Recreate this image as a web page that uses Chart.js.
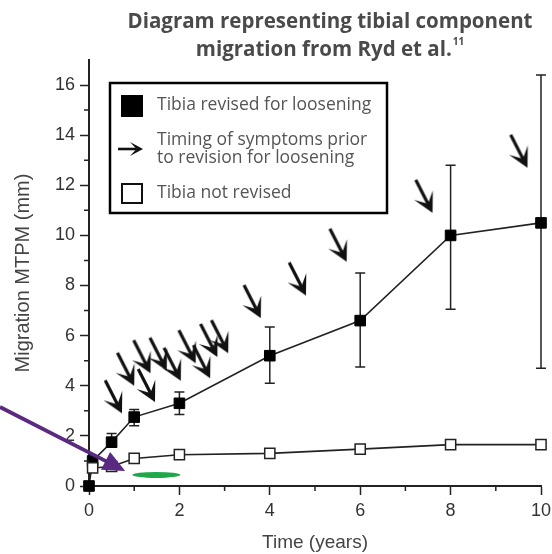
<!DOCTYPE html>
<html>
<head>
<meta charset="utf-8">
<script src="https://cdn.jsdelivr.net/npm/chart.js@4"></script>
<style>
  html, body { margin: 0; padding: 0; background: #fff; }
  #chart { display: block; }
</style>
</head>
<body>
<canvas id="chart" width="552" height="554"></canvas>
<script>
// tibia revised for loosening (filled squares) with error bars
const revisedYears = [0, 0.08, 0.5, 1, 2, 4, 6, 8, 10];
const revisedMtpm = [0, 1.0, 1.75, 2.75, 3.3, 5.2, 6.6, 10.0, 10.5];
const revisedLow = [null, null, 1.55, 2.4, 2.85, 4.1, 4.75, 7.05, 4.7];
const revisedHigh = [null, null, 2.1, 3.05, 3.75, 6.35, 8.5, 12.8, 16.4];

// tibia not revised (open squares)
const stableYears = [0.08, 0.5, 1, 2, 4, 6, 8, 10];
const stableMtpm = [0.72, 0.78, 1.1, 1.25, 1.3, 1.47, 1.65, 1.65];

// arrow tips: timing of symptoms prior to revision
const symptomYears = [0.73, 1.0, 1.46, 1.36, 1.72, 2.03, 2.36, 2.68, 2.84, 3.08, 3.8, 4.8, 5.7, 7.6, 9.7];
const symptomMtpm = [2.9, 4.0, 3.35, 4.5, 4.6, 4.2, 4.9, 4.3, 5.15, 5.3, 6.7, 7.6, 8.95, 10.9, 12.7];

const titleLines = ['Diagram representing tibial component', 'migration from Ryd et al.'];
const titleRef = '11';
const legendLabels = [['Tibia revised for loosening'], ['Timing of symptoms prior', 'to revision for loosening'], ['Tibia not revised']];

// annotations added on top of the original figure (data coords)
const pointerFrom = [-1.97, 3.15];
const pointerTo = [0.8, 0.6];
const ovalCentre = [1.49, 0.44];
const ovalSize = [0.53, 0.12];

const ink = '#222';
const axisFont = '"Liberation Sans", Arial';

function drawArrow(g, tx, ty, ang, len, hl, hw, shaft) {
  const dx = Math.cos(ang), dy = Math.sin(ang);
  const nx = -dy, ny = dx;
  g.strokeStyle = '#111';
  g.fillStyle = '#111';
  g.lineWidth = shaft;
  g.beginPath();
  g.moveTo(tx - len * dx, ty - len * dy);
  g.lineTo(tx - hl * 0.5 * dx, ty - hl * 0.5 * dy);
  g.stroke();
  g.beginPath();
  g.moveTo(tx, ty);
  g.lineTo(tx - hl * dx + hw * nx, ty - hl * dy + hw * ny);
  g.lineTo(tx - hl * 0.5 * dx, ty - hl * 0.5 * dy);
  g.lineTo(tx - hl * dx - hw * nx, ty - hl * dy - hw * ny);
  g.closePath();
  g.fill();
}

// arrow image with its tip at the centre, so the point sits on the tip
function arrowImage() {
  const c = document.createElement('canvas');
  c.width = 90; c.height = 90;
  drawArrow(c.getContext('2d'), 45, 45, 63 * Math.PI / 180, 37, 20, 10.5, 3.2);
  return c;
}

const extras = {
  id: 'extras',
  beforeDatasetsDraw(chart) {
    const { ctx, scales: { x, y } } = chart;
    ctx.save();
    ctx.strokeStyle = ink;
    ctx.lineWidth = 1.5;
    revisedYears.forEach((t, i) => {
      if (revisedLow[i] == null) return;
      const px = x.getPixelForValue(t);
      const lo = y.getPixelForValue(revisedLow[i]);
      const hi = y.getPixelForValue(revisedHigh[i]);
      ctx.beginPath();
      ctx.moveTo(px, lo); ctx.lineTo(px, hi);
      ctx.moveTo(px - 5, lo); ctx.lineTo(px + 5, lo);
      ctx.moveTo(px - 5, hi); ctx.lineTo(px + 5, hi);
      ctx.stroke();
    });
    ctx.restore();
  },
  afterDraw(chart) {
    const { ctx, scales: { x, y } } = chart;
    ctx.save();

    // minor ticks
    ctx.strokeStyle = ink;
    ctx.lineWidth = 1.5;
    ctx.beginPath();
    for (let v = 1; v < 10; v += 2) {
      const px = x.getPixelForValue(v);
      ctx.moveTo(px, y.bottom); ctx.lineTo(px, y.bottom + 5);
    }
    for (let v = 1; v < 17; v += 2) {
      const py = y.getPixelForValue(v);
      ctx.moveTo(x.left, py); ctx.lineTo(x.left - 5, py);
    }
    ctx.stroke();

    // title
    ctx.fillStyle = '#4a4a4a';
    ctx.textBaseline = 'middle';
    ctx.textAlign = 'center';
    ctx.font = 'bold 20.5px "Open Sans"';
    ctx.fillText(titleLines[0], 330, 22);
    const w2 = ctx.measureText(titleLines[1]).width;
    ctx.font = 'bold 10px "Open Sans"';
    const w3 = ctx.measureText(titleRef).width;
    const left2 = 330 - (w2 + w3 + 1) / 2;
    ctx.textAlign = 'left';
    ctx.font = 'bold 20.5px "Open Sans"';
    ctx.fillText(titleLines[1], left2, 50);
    ctx.font = 'bold 10px "Open Sans"';
    ctx.fillText(titleRef, left2 + w2 + 1, 42);

    // legend box
    ctx.fillStyle = '#fff';
    ctx.fillRect(110, 83, 277, 130);
    ctx.strokeStyle = '#000';
    ctx.lineWidth = 2.5;
    ctx.strokeRect(110, 83, 277, 130);
    ctx.fillStyle = '#000';
    ctx.fillRect(121, 95, 22, 22);
    drawArrow(ctx, 143, 149, 0, 25, 13, 7, 2.6);
    ctx.fillStyle = '#fff';
    ctx.fillRect(122, 184, 20, 19);
    ctx.lineWidth = 2;
    ctx.strokeRect(122, 184, 20, 19);
    ctx.fillStyle = '#555';
    ctx.font = '17.5px "Open Sans"';
    ctx.fillText(legendLabels[0][0], 157, 105);
    ctx.fillText(legendLabels[1][0], 157, 140);
    ctx.fillText(legendLabels[1][1], 157, 158);
    ctx.fillText(legendLabels[2][0], 157, 193);

    // purple pointer and green oval
    const ax = x.getPixelForValue(pointerFrom[0]), ay = y.getPixelForValue(pointerFrom[1]);
    const bx = x.getPixelForValue(pointerTo[0]), by = y.getPixelForValue(pointerTo[1]);
    const ang = Math.atan2(by - ay, bx - ax);
    const dx = Math.cos(ang), dy = Math.sin(ang);
    ctx.strokeStyle = '#5a2a82';
    ctx.fillStyle = '#5a2a82';
    ctx.lineWidth = 3.8;
    ctx.beginPath();
    ctx.moveTo(ax, ay);
    ctx.lineTo(bx - 15 * dx, by - 15 * dy);
    ctx.stroke();
    ctx.beginPath();
    ctx.moveTo(bx, by);
    ctx.lineTo(bx - 22 * dx - 10 * dy, by - 22 * dy + 10 * dx);
    ctx.lineTo(bx - 22 * dx + 10 * dy, by - 22 * dy - 10 * dx);
    ctx.closePath();
    ctx.fill();

    const ox = x.getPixelForValue(ovalCentre[0]), oy = y.getPixelForValue(ovalCentre[1]);
    const rx = x.getPixelForValue(ovalCentre[0] + ovalSize[0]) - ox;
    const ry = oy - y.getPixelForValue(ovalCentre[1] + ovalSize[1]);
    ctx.fillStyle = '#1fa84b';
    ctx.beginPath();
    ctx.ellipse(ox, oy, rx, ry, 0, 0, Math.PI * 2);
    ctx.fill();
    ctx.restore();
  }
};

const arrow = arrowImage();

new Chart(document.getElementById('chart'), {
  type: 'line',
  data: {
    datasets: [
      {
        label: 'Tibia not revised',
        data: stableYears.map((t, i) => ({ x: t, y: stableMtpm[i] })),
        borderColor: ink, borderWidth: 1.6,
        pointStyle: 'rect', pointRadius: 7.2,
        pointBackgroundColor: '#fff', pointBorderColor: ink, pointBorderWidth: 1.5
      },
      {
        label: 'Tibia revised for loosening',
        data: revisedYears.map((t, i) => ({ x: t, y: revisedMtpm[i] })),
        borderColor: ink, borderWidth: 1.6,
        pointStyle: 'rect', pointRadius: 7.5,
        pointBackgroundColor: '#000', pointBorderColor: '#000', pointBorderWidth: 1
      },
      {
        label: 'Timing of symptoms prior to revision for loosening',
        data: symptomYears.map((t, i) => ({ x: t, y: symptomMtpm[i] })),
        showLine: false,
        pointStyle: arrow, pointRadius: 10
      }
    ]
  },
  options: {
    responsive: false,
    animation: false,
    clip: false,
    layout: { padding: { top: 60, right: 11, left: 0, bottom: 0 } },
    plugins: { legend: { display: false }, title: { display: false }, tooltip: { enabled: false } },
    scales: {
      x: {
        type: 'linear', min: 0, max: 10,
        afterFit: s => { s.height = 68; s.paddingRight = 0; s.paddingLeft = 0; },
        ticks: { stepSize: 2, autoSkip: false, maxRotation: 0, padding: 5, color: '#333',
                 font: { family: axisFont, size: 18 } },
        grid: { drawOnChartArea: false, tickLength: 9, tickColor: ink, tickWidth: 1.5 },
        border: { color: ink, width: 2 },
        title: { display: true, text: 'Time (years)', color: '#444', padding: { top: 0, bottom: 0 },
                 font: { family: axisFont, size: 19 } }
      },
      y: {
        type: 'linear', min: 0, max: 17,
        afterFit: s => { s.width = 89; s.paddingTop = 0; s.paddingBottom = 0; },
        ticks: { stepSize: 2, includeBounds: false, padding: 5, color: '#333',
                 font: { family: axisFont, size: 18 } },
        grid: { drawOnChartArea: false, tickLength: 9, tickColor: ink, tickWidth: 1.5 },
        border: { color: ink, width: 2 },
        title: { display: true, text: 'Migration MTPM (mm)', color: '#444', padding: { top: 11, bottom: 0 },
                 font: { family: axisFont, size: 20 } }
      }
    }
  },
  plugins: [extras]
});
</script>
</body>
</html>
